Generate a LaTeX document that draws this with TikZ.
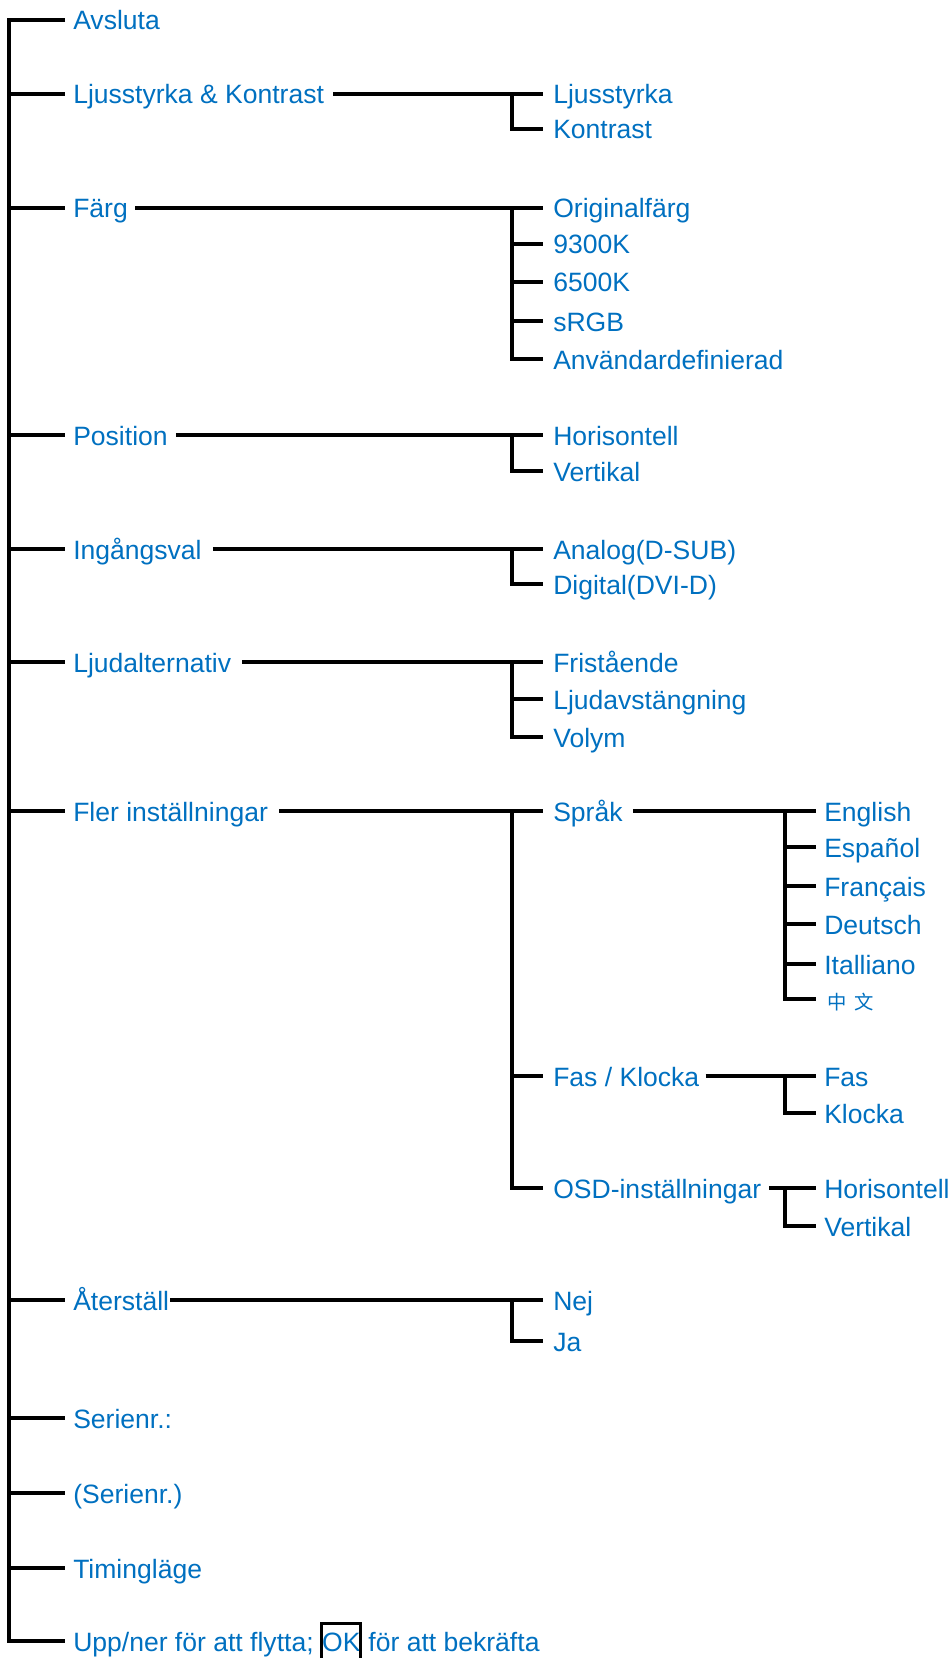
\documentclass[tikz,border=0pt]{standalone}
\usepackage{fontspec}
\setmainfont{Liberation Sans}
\newfontfamily\cjkfont{Noto Sans CJK SC}
\usetikzlibrary{calc}
\definecolor{menublue}{RGB}{0,112,192}
\begin{document}
\begin{tikzpicture}[x=0.75pt,y=-0.75pt,
  lbl/.style={font=\fontsize{19.9pt}{24pt}\selectfont, text=menublue, inner sep=0pt,
              text height=16.5pt, text depth=1.5pt, anchor=west},
  conn/.style={draw=black, line width=2.4pt, line join=miter},
  okframe/.style={draw=black, line width=2.4pt}
]
\useasboundingbox (0,0) rectangle (952,1658);
\coordinate (T) at (9,0);
\coordinate (J2) at (512,0);
\coordinate (J3) at (785,0);

% ---------- level 1 ----------
\node[lbl] (avs)  at (73,20)   {Avsluta};
\node[lbl] (ljk)  at (73,94)   {Ljusstyrka \& Kontrast};
\node[lbl] (farg) at (73,208)  {Färg};
\node[lbl] (pos)  at (73,435)  {Position};
\node[lbl] (ing)  at (73,549)  {Ingångsval};
\node[lbl] (ljud) at (73,662)  {Ljudalternativ};
\node[lbl] (fler) at (73,811)  {Fler inställningar};
\node[lbl] (ater) at (73,1300) {Återställ};
\node[lbl] (ser1) at (73,1418) {Serienr.:};
\node[lbl] (ser2) at (73,1493) {(Serienr.)};
\node[lbl] (tim)  at (73,1568) {Timingläge};
\node[lbl] (upp)  at (73,1641) {Upp/ner för att flytta;\kern0.3em};
\node[lbl, anchor=base west, text height=20.25pt, text depth=9pt] (ok) at (upp.base east) {OK};
\node[lbl, anchor=base west] (upp3) at (ok.base east) {\kern0.28em för att bekräfta};
\draw[okframe] (ok.south west) rectangle (ok.north east);

% ---------- level 2 ----------
\node[lbl] (ljs)  at (553,94)   {Ljusstyrka};
\node[lbl] (kon)  at (553,129)  {Kontrast};
\node[lbl] (orig) at (553,208)  {Originalfärg};
\node[lbl] (k93)  at (553,244)  {9300K};
\node[lbl] (k65)  at (553,282)  {6500K};
\node[lbl] (srgb) at (553,321)  {sRGB};
\node[lbl] (anv)  at (553,359)  {Användardefinierad};
\node[lbl] (hor)  at (553,435)  {Horisontell};
\node[lbl] (ver)  at (553,471)  {Vertikal};
\node[lbl] (ana)  at (553,549)  {Analog(D-SUB)};
\node[lbl] (dig)  at (553,584)  {Digital(DVI-D)};
\node[lbl] (fri)  at (553,662)  {Fristående};
\node[lbl] (lja)  at (553,699)  {Ljudavstängning};
\node[lbl] (vol)  at (553,737)  {Volym};
\node[lbl] (spr)  at (553,811)  {Språk};
\node[lbl] (fk)   at (553,1076) {Fas / Klocka};
\node[lbl] (osd)  at (553,1188) {OSD-inställningar};
\node[lbl] (nej)  at (553,1300) {Nej};
\node[lbl] (ja)   at (553,1341) {Ja};

% ---------- level 3 ----------
\node[lbl] (eng)  at (824,811)  {English};
\node[lbl] (esp)  at (824,847)  {Español};
\node[lbl] (fra)  at (824,886)  {Français};
\node[lbl] (deu)  at (824,924)  {Deutsch};
\node[lbl] (ita)  at (824,964)  {Italliano};
\node[lbl, font=\cjkfont\fontsize{14.5pt}{17pt}\selectfont] (zh) at (827,999) {中\hspace{6pt}文};
\node[lbl] (fas)  at (824,1076) {Fas};
\node[lbl] (klo)  at (824,1113) {Klocka};
\node[lbl] (hor2) at (824,1188) {Horisontell};
\node[lbl] (ver2) at (824,1226) {Vertikal};

% ---------- trunk ----------
\draw[conn] ($(avs.west)+(-8,0)$) -| (T |- upp.west) -- ($(upp.west)+(-8,0)$);
\foreach \n in {ljk,farg,pos,ing,ljud,fler,ater,ser1,ser2,tim}
  \draw[conn] (T |- \n.west) -- ($(\n.west)+(-8,0)$);

% ---------- level 1 -> level 2 ----------
\draw[conn] ($(ljk.east)+(9,0)$)  -- ($(ljs.west)+(-10,0)$);
\draw[conn] (J2 |- ljs.west) |- ($(kon.west)+(-10,0)$);

\draw[conn] ($(farg.east)+(7,0)$) -- ($(orig.west)+(-10,0)$);
\draw[conn] (J2 |- orig.west) |- ($(anv.west)+(-10,0)$);
\foreach \n in {k93,k65,srgb}
  \draw[conn] (J2 |- \n.west) -- ($(\n.west)+(-10,0)$);

\draw[conn] ($(pos.east)+(8,0)$)  -- ($(hor.west)+(-10,0)$);
\draw[conn] (J2 |- hor.west) |- ($(ver.west)+(-10,0)$);

\draw[conn] ($(ing.east)+(11,0)$) -- ($(ana.west)+(-10,0)$);
\draw[conn] (J2 |- ana.west) |- ($(dig.west)+(-10,0)$);

\draw[conn] ($(ljud.east)+(11,0)$) -- ($(fri.west)+(-10,0)$);
\draw[conn] (J2 |- fri.west) |- ($(vol.west)+(-10,0)$);
\draw[conn] (J2 |- lja.west) -- ($(lja.west)+(-10,0)$);

\draw[conn] ($(fler.east)+(11,0)$) -- ($(spr.west)+(-10,0)$);
\draw[conn] (J2 |- spr.west) |- ($(osd.west)+(-10,0)$);
\draw[conn] (J2 |- fk.west) -- ($(fk.west)+(-10,0)$);

\draw[conn] ($(ater.east)+(1,0)$) -- ($(nej.west)+(-10,0)$);
\draw[conn] (J2 |- nej.west) |- ($(ja.west)+(-10,0)$);

% ---------- level 2 -> level 3 ----------
\draw[conn] ($(spr.east)+(10,0)$) -- ($(eng.west)+(-8,0)$);
\draw[conn] (J3 |- eng.west) |- ($(zh.west)+(-11,0)$);
\foreach \n in {esp,fra,deu,ita}
  \draw[conn] (J3 |- \n.west) -- ($(\n.west)+(-8,0)$);

\draw[conn] ($(fk.east)+(6,0)$) -- ($(fas.west)+(-8,0)$);
\draw[conn] (J3 |- fas.west) |- ($(klo.west)+(-8,0)$);

\draw[conn] ($(osd.east)+(8,0)$) -- ($(hor2.west)+(-8,0)$);
\draw[conn] (J3 |- hor2.west) |- ($(ver2.west)+(-8,0)$);
\end{tikzpicture}
\end{document}
